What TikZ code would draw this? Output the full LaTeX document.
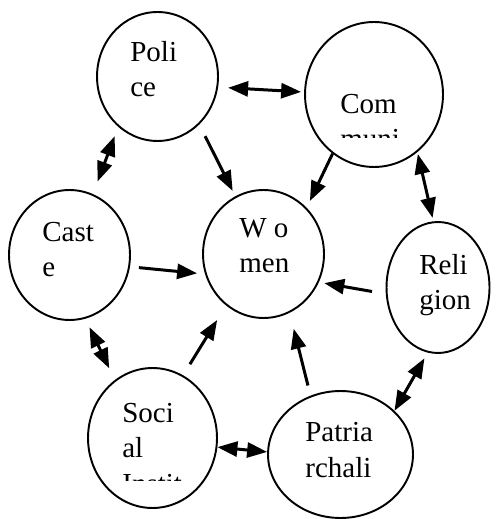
\documentclass[tikz,border=0pt]{standalone}
\usepackage{fontspec}
\setmainfont{Liberation Serif}
\usetikzlibrary{arrows.meta,shapes.geometric}

\tikzset{
  bubble/.style={draw, ellipse, line width=1.1pt, inner sep=0pt},
  link/.style={line width=1.7pt, -{Triangle[length=0.4cm,width=0.3cm]}},
  twolink/.style={line width=1.7pt, {Triangle[length=0.4cm,width=0.3cm]}-{Triangle[length=0.4cm,width=0.3cm]}},
  words/.style={anchor=base west, inner sep=0pt, align=left, font=\fontsize{16.5pt}{20pt}\selectfont}
}

\begin{document}
\begin{tikzpicture}[x=0.02cm, y=-0.02cm]

    % Fix the size of the picture (one unit is one pixel of the original)
    \useasboundingbox (0,0) rectangle (496,519);

    % Draw the seven circles, Women in the middle
    \node[bubble, minimum width=2.42cm, minimum height=2.58cm] (police) at (157.5,76.5) {};
    \node[bubble, minimum width=2.76cm, minimum height=2.90cm] (community) at (374,94.5) {};
    \node[bubble, minimum width=2.42cm, minimum height=2.60cm] (caste) at (69.5,255) {};
    \node[bubble, minimum width=2.42cm, minimum height=2.56cm] (women) at (263.5,254) {};
    \node[bubble, minimum width=2.06cm, minimum height=2.62cm] (religion) at (438,287.5) {};
    \node[bubble, minimum width=2.58cm, minimum height=2.80cm] (social) at (152.5,438) {};
    \node[bubble, minimum width=2.90cm, minimum height=2.54cm] (patriarchy) at (340.5,454.5) {};

    % Add the texts, broken as in the picture (placed at the last line)
    \node[words] (policetext) at (130,97) {Poli\\ce};
    \node[words] (castetext) at (42,277) {Cast\\e};
    \node[words] (womentext) at (239,273) {W o\\men};
    \node[words] (religiontext) at (419,310) {Reli\\gion};
    \node[words] (patriarchytext) at (305,477) {Patria\\rchali};

    % These two texts are cut off at the bottom
    \begin{scope}
        \clip (300,0) rectangle (450,138);
        \node[words] (communitytext) at (340,149) {Com\\muni};
    \end{scope}
    \begin{scope}
        \clip (90,380) rectangle (220,480);
        \node[words] (socialtext) at (122,493) {Soci\\al\\Instit};
    \end{scope}

    % Arrows into Women
    \draw[link, shorten <=0.26cm, shorten >=0.12cm] (police.-49) -- (women.116);
    \draw[link, shorten >=0.15cm] (community.235) -- (women.47);
    \draw[link, shorten <=0.18cm, shorten >=0.16cm] (caste.-11) -- (women.199);
    \draw[link, shorten <=0.28cm, shorten >=0.11cm] (religion.187) -- (women.-27);
    \draw[link, shorten <=0.26cm, shorten >=0.34cm] (social.64) -- (women.-126);
    \draw[link, shorten <=0.21cm, shorten >=0.33cm] (patriarchy.117) -- (women.-66);

    % Two-way arrows round the ring
    \draw[twolink, shorten <=0.2cm, shorten >=0.06cm] (police.-10) -- (community.178);
    \draw[twolink, shorten <=0.04cm, shorten >=0.07cm] (community.-53) -- (religion.94);
    \draw[twolink, shorten <=0.13cm] (religion.-99) -- (patriarchy.39);
    \draw[twolink] (social.-8) -- (patriarchy.178);
    \draw[twolink, shorten <=0.19cm, shorten >=0.26cm] (caste.-76) -- (social.123);
    \draw[twolink, shorten <=0.2cm, shorten >=0.27cm] (police.-128) -- (caste.69);

\end{tikzpicture}
\end{document}
